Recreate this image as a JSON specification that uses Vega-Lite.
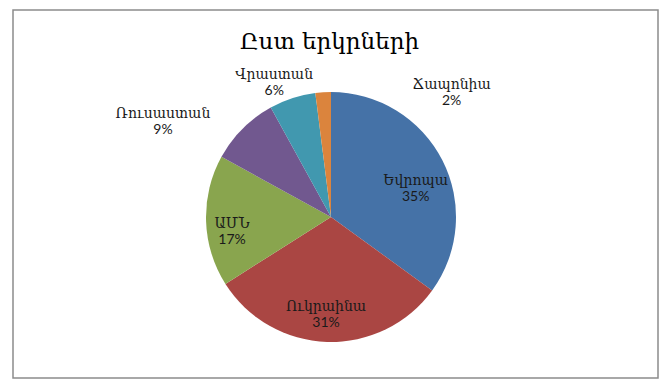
{
  "$schema": "https://vega.github.io/schema/vega-lite/v6.json",
  "width": 645,
  "height": 368,
  "autosize": "none",
  "padding": {"left": 13, "top": 10, "right": 11, "bottom": 10},
  "background": "white",
  "view": {"stroke": "#8c8c8c", "strokeWidth": 1.5, "fill": "white"},
  "title": {
    "text": "Ըստ երկրների",
    "font": "DejaVu Serif",
    "fontSize": 23,
    "fontWeight": "normal",
    "color": "#000000",
    "anchor": "middle",
    "baseline": "top",
    "offset": -44,
    "dx": -6
  },
  "data": {
    "values": [
      {"country": "Եվրոպա", "value": 35, "n": 1},
      {"country": "Ուկրաինա", "value": 31, "n": 2},
      {"country": "ԱՄՆ", "value": 17, "n": 3},
      {"country": "Ռուսաստան", "value": 9, "n": 4},
      {"country": "Վրաստան", "value": 6, "n": 5},
      {"country": "Ճապոնիա", "value": 2, "n": 6}
    ]
  },
  "transform": [
    {"stack": "value", "groupby": [], "sort": [{"field": "n", "order": "ascending"}], "as": ["v0", "v1"]},
    {"calculate": "(datum.v0 + datum.v1) / 2", "as": "mid"},
    {"calculate": "datum.country + '\\n' + datum.value + '%'", "as": "label"}
  ],
  "encoding": {
    "theta": {"field": "mid", "type": "quantitative", "scale": {"domain": [0, 100]}}
  },
  "layer": [
    {
      "mark": {"type": "arc", "radius": 125, "xOffset": -4.5, "yOffset": 23},
      "encoding": {
        "theta": {"field": "v0", "type": "quantitative", "scale": {"domain": [0, 100]}},
        "theta2": {"field": "v1"},
        "color": {
          "field": "country",
          "type": "nominal",
          "legend": null,
          "scale": {
            "domain": ["Եվրոպա", "Ուկրաինա", "ԱՄՆ", "Ռուսաստան", "Վրաստան", "Ճապոնիա"],
            "range": ["#4572A7", "#AA4643", "#89A54E", "#71588F", "#4198AF", "#DB843D"]
          }
        }
      }
    },
    {
      "transform": [{"filter": "datum.n == 1"}],
      "mark": {"type": "text", "lineBreak": "\n", "font": "Lato, DejaVu Serif", "fontSize": 14, "color": "#1a1a1a", "align": "center", "baseline": "middle", "xOffset": -4.5, "yOffset": 16, "dx": 0, "dy": 14},
      "encoding": {"radius": {"value": 95}, "text": {"field": "label"}}
    },
    {
      "transform": [{"filter": "datum.n == 2"}],
      "mark": {"type": "text", "lineBreak": "\n", "font": "Lato, DejaVu Serif", "fontSize": 14, "color": "#1a1a1a", "align": "center", "baseline": "middle", "xOffset": -4.5, "yOffset": 16, "dx": -2, "dy": 2},
      "encoding": {"radius": {"value": 95}, "text": {"field": "label"}}
    },
    {
      "transform": [{"filter": "datum.n == 3"}],
      "mark": {"type": "text", "lineBreak": "\n", "font": "Lato, DejaVu Serif", "fontSize": 14, "color": "#1a1a1a", "align": "center", "baseline": "middle", "xOffset": -4.5, "yOffset": 16, "dx": -4, "dy": 11},
      "encoding": {"radius": {"value": 95}, "text": {"field": "label"}}
    },
    {
      "transform": [{"filter": "datum.n == 4"}],
      "mark": {"type": "text", "lineBreak": "\n", "font": "Lato, DejaVu Serif", "fontSize": 14, "color": "#1a1a1a", "align": "center", "baseline": "middle", "xOffset": -4.5, "yOffset": 16, "dx": -62, "dy": 10},
      "encoding": {"radius": {"value": 150}, "text": {"field": "label"}}
    },
    {
      "transform": [{"filter": "datum.n == 5"}],
      "mark": {"type": "text", "lineBreak": "\n", "font": "Lato, DejaVu Serif", "fontSize": 14, "color": "#1a1a1a", "align": "center", "baseline": "middle", "xOffset": -4.5, "yOffset": 16, "dx": -12, "dy": 3},
      "encoding": {"radius": {"value": 145}, "text": {"field": "label"}}
    },
    {
      "transform": [{"filter": "datum.n == 6"}],
      "mark": {"type": "text", "lineBreak": "\n", "font": "Lato, DejaVu Serif", "fontSize": 14, "color": "#1a1a1a", "align": "center", "baseline": "middle", "xOffset": -4.5, "yOffset": 16, "dx": 130, "dy": 25},
      "encoding": {"radius": {"value": 150}, "text": {"field": "label"}}
    }
  ]
}
